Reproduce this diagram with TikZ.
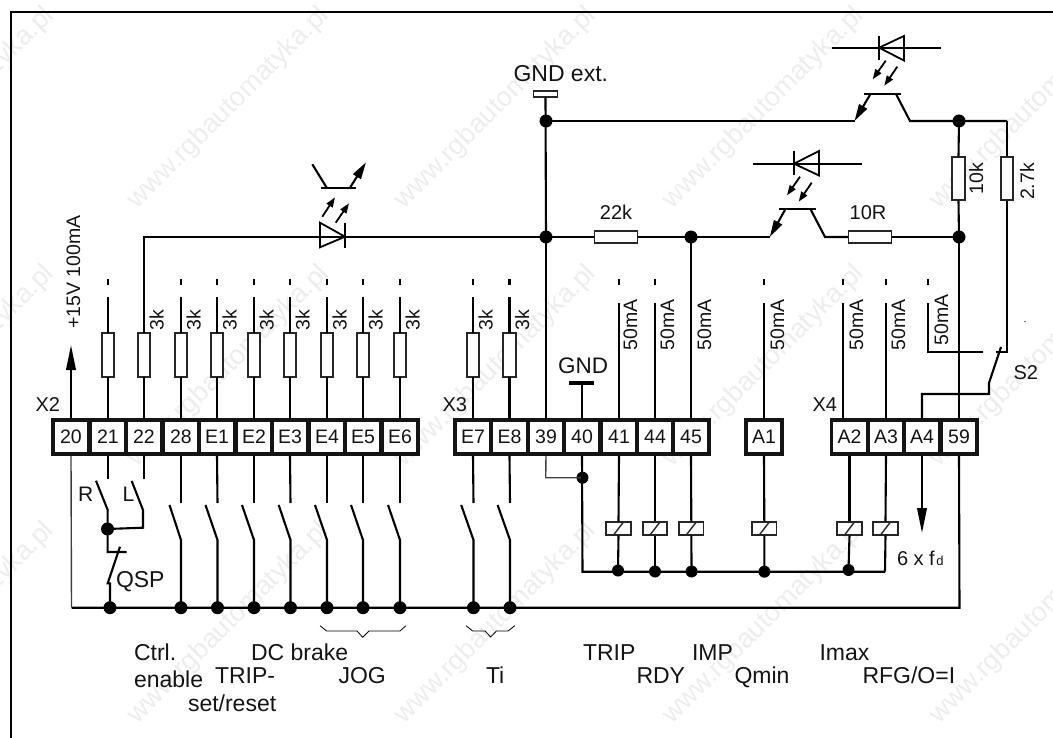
\documentclass[tikz,border=0pt]{standalone}
\usepackage{fontspec}
\setmainfont{Liberation Sans}
\usetikzlibrary{arrows.meta}
\tikzset{
  wire/.style={line width=2.1pt,black},
  thinwire/.style={line width=1.4pt,black!75},
  hair/.style={line width=0.8pt,black},
  lbl/.style={inner sep=0pt,outer sep=0pt,font=\fontsize{23}{25}\selectfont,text=black!92,anchor=base west},
  lblb/.style={lbl,font=\fontsize{20}{22}\selectfont},
  rlbl/.style={inner sep=0pt,outer sep=0pt,font=\fontsize{19.5}{21}\selectfont,text=black!92,rotate=90,anchor=base},
  term/.style={draw=black!92,fill=white,line width=3.6pt,minimum width=36.3pt,minimum height=34.5pt,inner sep=0pt,outer sep=1.8pt,font=\fontsize{19.5}{21}\selectfont,text=black!92},
  resv/.style={draw=black!85,fill=white,line width=1.6pt,minimum width=12.5pt,minimum height=43.5pt,inner sep=0pt,outer sep=0.7pt},
  resh/.style={draw=black!85,fill=white,line width=1.6pt,minimum width=43pt,minimum height=12.5pt,inner sep=0pt,outer sep=0.7pt},
  relay/.style={draw=black!85,fill=white,line width=1.6pt,minimum width=24.5pt,minimum height=13pt,inner sep=0pt,outer sep=0.7pt,
    path picture={\draw[line width=1.4pt] ([xshift=-5pt]path picture bounding box.south) -- ([xshift=5pt]path picture bounding box.north);}},
  dot/.style={circle,fill=black,minimum size=13pt,inner sep=0pt,outer sep=0pt},
  dotb/.style={circle,fill=black,minimum size=12pt,inner sep=0pt,outer sep=0pt},
  light/.style={line width=1.8pt,-{Triangle[length=10pt,width=7pt]}},
  emit/.style={line width=2.1pt,-{Triangle[length=17pt,width=9pt]}},
  bigtip/.style={line width=2.1pt,-{Triangle[length=25pt,width=9.5pt]}},
  wmark/.style={inner sep=0pt,outer sep=0pt,font=\fontsize{27}{28}\selectfont,text=black!7,rotate=45,anchor=base east},
}
\begin{document}
\begin{tikzpicture}[x=1pt,y=-1pt]
\useasboundingbox (0,0) rectangle (1053,738);
% watermark
\begin{scope}
\clip (0,0) rectangle (1053,738);
\foreach \wy [count=\i] in {17,275,532,790}
  \foreach \wx [count=\j] in {55,330,597,865,1132}
    \node[wmark] (wm\i\j) at (\wx,\wy) {www.rgbautomatyka.pl};
\end{scope}
% frame
\coordinate (fa) at (11,738);
\coordinate (fb) at (11,12);
\coordinate (fc) at (1053,12);
\draw[line width=2.1pt] (fa) -- (fb) -- (fc);
% terminals
\foreach \n/\x in {20/71,21/108,22/144,28/181,E1/217,E2/254,E3/290,E4/327,E5/363,E6/400,
                   E7/473,E8/509.5,39/546,40/582,41/619,44/655,45/691,
                   A1/764,A2/849.5,A3/886,A4/922,59/959}
  \node[term] (t\n) at (\x,437) {\n};
\node[lblb] (x2) at (35.5,411) {X2};
\node[lblb] (x3) at (442.5,411) {X3};
\node[lblb] (x4) at (812.5,411) {X4};
% resistor inputs
\foreach \n/\x in {21/108,22/144,28/181,E1/217,E2/254,E3/290,E4/327,E5/363,E6/400,E7/473,E8/509.5}{
  \node[resv] (r\n) at (\x,355) {};
  \draw[wire] (t\n.north) -- (r\n.south);
}
\foreach \n/\x in {28/181,E1/217,E2/254,E3/290,E4/327,E5/363,E6/400,E7/473,E8/509.5,22/144}
  \node[rlbl] (k\n) at (\x+19.5,320) {3k};
\foreach \n/\x in {21/108,28/181,E1/217,E2/254,E3/290,E4/327,E5/363,E6/400,E7/473,E8/509.5}{
  \coordinate (w\n) at (\x,297);
  \coordinate (ta\n) at (\x,279.5);
  \coordinate (tb\n) at (\x,285);
  \draw[wire] (r\n.north) -- (w\n);
  \draw[wire] (ta\n) -- (tb\n);
}
% +15V
\coordinate (p15) at (71,345);
\draw[bigtip] (t20.north) -- (p15);
\node[rlbl,anchor=base west] (v15) at (80,329) {+15V 100mA};
% main rail y=237
\node[dot] (jg) at (546,237) {};
\node[dot] (j45) at (691,237) {};
\node[dot] (j59) at (959,237) {};
\node[resh] (r22k) at (616,237) {};
\node[resh] (r10R) at (870,237) {};
\node[lblb,anchor=base] (l22k) at (616,220) {22k};
\node[lblb,anchor=base] (l10R) at (868,220) {10R};
\coordinate (c22) at (144,237);
\draw[wire] (r22.north) -- (c22) -- (jg.center);
\draw[wire] (jg.center) -- (r22k.west);
\draw[wire] (r22k.east) -- (j45.center);
\draw[wire] (t39.north) -- (jg.center);
\draw[wire] (t45.north) -- (j45.center);
% left opto
\coordinate (da) at (320,222.7);
\coordinate (db) at (320,247.3);
\coordinate (dt) at (345,236.7);
\coordinate (dc1) at (345,222.7);
\coordinate (dc2) at (345,247.7);
\draw[line width=1.8pt] (da) -- (db) -- (dt) -- cycle;
\draw[wire] (dc1) -- (dc2);
\coordinate (la1) at (322.3,216.7); \coordinate (la2) at (335,197.3);
\coordinate (lb1) at (335.7,222.7); \coordinate (lb2) at (349,203.3);
\draw[light] (la1) -- (la2);
\draw[light] (lb1) -- (lb2);
\coordinate (ba) at (321.3,187.7); \coordinate (bb) at (356,187.7);
\draw[wire] (ba) -- (bb);
\coordinate (ca) at (312.3,164.3); \coordinate (cb) at (326.7,187.7);
\draw[wire] (ca) -- (cb);
\coordinate (ea) at (350,187.7); \coordinate (eb) at (366,162.3);
\draw[emit] (ea) -- (eb);
% GND ext
\node[draw=black!85,fill=white,line width=1.6pt,minimum width=24pt,minimum height=6pt,inner sep=0pt,outer sep=0.7pt] (gx) at (545.5,94) {};
\node[lbl] (gxt) at (513.5,82) {GND ext.};
\node[dot] (jt) at (546,121) {};
\node[dot] (jr) at (959,121) {};
\draw[wire] (gx.south) -- (jg.center);
% upper opto
\coordinate (ue) at (854.5,121);
\coordinate (ue2) at (870.5,94);
\coordinate (ub1) at (864,94); \coordinate (ub2) at (901,94);
\coordinate (uc1) at (896,94); \coordinate (uc2) at (910,121);
\coordinate (ur) at (1007,121);
\draw[wire] (jt.center) -- (ue);
\draw[emit] (ue2) -- (ue);
\draw[wire] (ub1) -- (ub2);
\draw[wire] (uc1) -- (uc2) -- (ur);
\coordinate (ul1) at (831.5,47.7); \coordinate (ul2) at (941,47.7);
\draw[wire] (ul1) -- (ul2);
\coordinate (ud1) at (904,36); \coordinate (ud2) at (904,60.5); \coordinate (ud3) at (879,47.7);
\draw[line width=1.8pt] (ud1) -- (ud2) -- (ud3) -- cycle;
\coordinate (uk1) at (879,36); \coordinate (uk2) at (879,60);
\draw[wire] (uk1) -- (uk2);
\coordinate (ua1) at (885.7,60.7); \coordinate (ua2) at (872.7,79.3);
\coordinate (ua3) at (897.3,66.7); \coordinate (ua4) at (884.3,85.7);
\draw[light] (ua1) -- (ua2);
\draw[light] (ua3) -- (ua4);
% lower opto
\coordinate (me) at (769.8,237);
\coordinate (me2) at (785.5,209);
\coordinate (mb1) at (779,209); \coordinate (mb2) at (815.7,209);
\coordinate (mc1) at (810.4,209); \coordinate (mc2) at (825,237);
\draw[wire] (j45.center) -- (me);
\draw[emit] (me2) -- (me);
\draw[wire] (mb1) -- (mb2);
\draw[wire] (mc1) -- (mc2) -- (r10R.west);
\draw[wire] (r10R.east) -- (j59.center);
\coordinate (ml1) at (752.6,163.7); \coordinate (ml2) at (861.6,163.7);
\draw[wire] (ml1) -- (ml2);
\coordinate (md1) at (819,151); \coordinate (md2) at (819,175.5); \coordinate (md3) at (794,163.7);
\draw[line width=1.8pt] (md1) -- (md2) -- (md3) -- cycle;
\coordinate (mk1) at (794,151); \coordinate (mk2) at (794,175);
\draw[wire] (mk1) -- (mk2);
\coordinate (ma1) at (800,176.7); \coordinate (ma2) at (787,195.3);
\coordinate (ma3) at (811.7,182.7); \coordinate (ma4) at (798.7,201.7);
\draw[light] (ma1) -- (ma2);
\draw[light] (ma3) -- (ma4);
% 10k / 2.7k
\node[resv] (r10k) at (958.5,178.5) {};
\node[resv] (r27k) at (1007,178.5) {};
\node[rlbl] (l10k) at (983,178.5) {10k};
\node[rlbl] (l27k) at (1034,181.5) {2.7k};
\draw[wire] (jr.center) -- (r10k.north);
\draw[wire] (r10k.south) -- (j59.center);
\draw[wire] (ur) -- (r27k.north);
% GND
\node[lbl,font=\fontsize{22.5}{24}\selectfont] (gndt) at (558,373) {GND};
\coordinate (g1) at (569,383); \coordinate (g2) at (594,383); \coordinate (g0) at (582,383);
\draw[line width=3.8pt] (g1) -- (g2);
\draw[wire] (t40.north) -- (g0);
% 50mA outputs
\foreach \n/\x/\lx in {41/619/637,44/655/674,A1/764/784}{
  \coordinate (w\n) at (\x,303);
  \coordinate (ta\n) at (\x,279.5);
  \coordinate (tb\n) at (\x,285);
  \draw[wire] (t\n.north) -- (w\n);
  \draw[wire] (ta\n) -- (tb\n);
  \node[rlbl] (m\n) at (\lx,325) {50mA};
}
\node[rlbl] (m45) at (711,325) {50mA};
\coordinate (wA2) at (843,303); \coordinate (wA2b) at (843,418);
\coordinate (taA2) at (843,279.5); \coordinate (tbA2) at (843,285);
\draw[wire] (wA2b) -- (wA2);
\draw[wire] (taA2) -- (tbA2);
\node[rlbl] (mA2) at (863,325) {50mA};
\coordinate (wA3) at (886,303);
\coordinate (taA3) at (886,279.5); \coordinate (tbA3) at (886,285);
\draw[wire] (tA3.north) -- (wA3);
\draw[wire] (taA3) -- (tbA3);
\node[rlbl] (mA3) at (905,325) {50mA};
% S2 contact
\coordinate (wA4) at (928,303); \coordinate (taA4) at (928,279.5); \coordinate (tbA4) at (928,285);
\coordinate (sa1) at (928,352); \coordinate (sa2) at (983,352);
\draw[wire] (taA4) -- (tbA4);
\draw[wire] (wA4) -- (sa1) -- (sa2);
\node[rlbl] (mA4) at (948,320) {50mA};
\coordinate (s27a) at (1007,352); \coordinate (s27b) at (996,352);
\draw[wire] (r27k.south) -- (s27a) -- (s27b);
\coordinate (sw1) at (1001,347); \coordinate (sw2) at (989,383); \coordinate (sw3) at (989,394); \coordinate (sw4) at (922,394);
\draw[wire] (sw1) -- (sw2) -- (sw3) -- (sw4) -- (tA4.north);
\node[lblb] (s2) at (1013.5,379) {S2};
\fill (1025,321.5) circle (0.6pt);
\draw[wire] (t59.north) -- (j59.center);
% bus
\coordinate (bl) at (71.5,607.7);
\coordinate (br) at (959.5,607.7);
\draw[wire] (bl) -- (br) -- (t59.south);
\draw[thinwire] (t20.south) -- (bl);
\foreach \n/\x/\k in {28/181/169.5,E1/217.5/205.5,E2/254/242,E3/290.5/278.7,E4/327/315,E5/363/351,E6/400/388,E7/473.5/461.2,E8/510/497.6}{
  \coordinate (sq\n) at (\x,503);
  \coordinate (se\n) at (\x,540);
  \coordinate (so\n) at (\k,505);
  \node[dot] (b\n) at (\x,607.7) {};
  \draw[wire] (t\n.south) -- (sq\n);
  \draw[wire] (so\n) -- (se\n) -- (b\n.center);
}
% R L QSP
\coordinate (rq) at (108,479); \coordinate (ro) at (96,480.7); \coordinate (re) at (107.7,510);
\coordinate (lq) at (144,479); \coordinate (lo) at (131.7,481); \coordinate (le) at (143,510);
\node[dot] (jrl) at (107.5,529) {};
\coordinate (lc) at (143,527.7);
\draw[wire] (t21.south) -- (rq);
\draw[wire] (t22.south) -- (lq);
\draw[wire] (ro) -- (re) -- (jrl.center);
\draw[wire] (lo) -- (le) -- (lc) -- (jrl.center);
\node[lblb,font=\fontsize{21}{23}\selectfont] (lr) at (78,501.7) {R};
\node[lblb,font=\fontsize{21}{23}\selectfont] (ll) at (122.5,501.7) {L};
\coordinate (qa) at (107.7,552); \coordinate (qb) at (126.7,552);
\coordinate (qs1) at (120,546.7); \coordinate (qs2) at (107.7,583.3);
\node[dot] (bq) at (110,607.7) {};
\draw[wire] (jrl.center) -- (qa) -- (qb);
\draw[wire] (qs1) -- (qs2) -- (bq.center |- qs2) -- (bq.center);
\node[lbl] (qsp) at (116,587) {QSP};
% braces
\coordinate (j1) at (320,625.7); \coordinate (j2) at (326.7,631); \coordinate (j3) at (357,631);
\coordinate (j4) at (362.7,637.3); \coordinate (j5) at (369,631); \coordinate (j6) at (400,631); \coordinate (j7) at (406,625.7);
\draw[hair] (j1) -- (j2) -- (j3) -- (j4) -- (j5) -- (j6) -- (j7);
\coordinate (i1) at (466,625.7); \coordinate (i2) at (472.7,631); \coordinate (i3) at (485,631);
\coordinate (i4) at (490.7,637); \coordinate (i5) at (496.4,631); \coordinate (i6) at (508,631); \coordinate (i7) at (514.8,625.7);
\draw[hair] (i1) -- (i2) -- (i3) -- (i4) -- (i5) -- (i6) -- (i7);
% relays and lower rail
\coordinate (l40) at (582.5,571.7);
\coordinate (l39a) at (545.7,477.7);
\node[dotb] (j40) at (582.5,477.7) {};
\draw[thinwire] (t39.south) -- (l39a) -- (j40.center);
\coordinate (lr2) at (885,571.7);
\draw[wire] (t40.south) -- (l40) -- (lr2);
\foreach \n/\x in {41/618.5,44/655,45/691.3,A1/764.3,A2/849.5,A3/885.5}{
  \node[relay] (q\n) at (\x,528.5) {};
  \draw[wire] (t\n.south) -- (q\n.north);
}
\foreach \n/\x/\y in {41/618/570.5,44/655/571.5,45/691.6/571.5,A1/764.4/571.7,A2/848.5/570}{
  \node[dotb] (u\n) at (\x,\y) {};
  \draw[wire] (q\n.south) -- (u\n.center);
}
\draw[wire] (qA3.south) -- (lr2);
\coordinate (a4t) at (922,533);
\draw[bigtip] (tA4.south) -- (a4t);
\node[lblb] (sixf) at (897,565) {6 x f\hspace{1.5pt}{\fontsize{13}{13}\selectfont d}};
% bottom labels
\node[lbl] (t1) at (134,660) {Ctrl.};
\node[lbl] (t2) at (134,687) {enable};
\node[lbl] (t3) at (215,683) {TRIP-};
\node[lbl] (t4) at (188,711.5) {set/reset};
\node[lbl] (t5) at (251,660) {DC brake};
\node[lbl] (t6) at (338.5,683) {JOG};
\node[lbl] (t7) at (486,683) {Ti};
\node[lbl] (t8) at (583,660) {TRIP};
\node[lbl] (t9) at (636.5,683) {RDY};
\node[lbl] (t10) at (692,660) {IMP};
\node[lbl] (t11) at (734.5,683) {Qmin};
\node[lbl] (t12) at (819.5,660) {Imax};
\node[lbl] (t13) at (862.5,683) {RFG/O=I};
\end{tikzpicture}
\end{document}
